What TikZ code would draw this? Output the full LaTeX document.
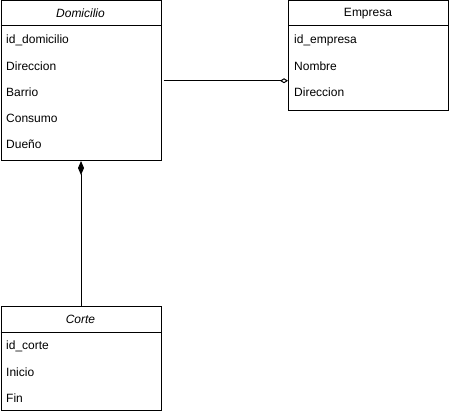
\documentclass[tikz,border=0pt]{standalone}
\usepackage{fontspec}
\setmainfont{Liberation Sans}
\usetikzlibrary{arrows.meta}
\begin{document}
\begin{tikzpicture}[x=1pt,y=-1pt,
  box/.style={draw,line width=1pt,rectangle,anchor=north west,minimum width=160pt,inner sep=0pt},
  hdr/.style={font=\fontsize{12}{14}\selectfont\itshape},
  hdrup/.style={font=\fontsize{12}{14}\selectfont},
  attr/.style={anchor=west,inner sep=0pt,font=\fontsize{12}{14}\selectfont},
  conn/.style={line width=1pt}]
\useasboundingbox (0,0) rectangle (449,414);
% Domicilio
\node[box,minimum height=159.5pt] (dom) at (0.5,0.5) {};
\draw[line width=1pt] (0.5,26) -- (160.5,26);
\node[hdr] (domh) at (80.5,13.5) {Domicilio};
\node[attr] (d1) at (6,40.5) {id\_domicilio};
\node[attr] (d2) at (6,66) {Direccion};
\node[attr] (d3) at (6,92) {Barrio};
\node[attr] (d4) at (6,118) {Consumo};
\node[attr] (d5) at (6,144) {Dueño};
% Empresa
\node[box,minimum height=109.5pt] (emp) at (288,0.5) {};
\draw[line width=1pt] (288,26) -- (448,26);
\node[hdrup] (emph) at (368,13.5) {Empresa};
\node[attr] (e1) at (294,40.5) {id\_empresa};
\node[attr] (e2) at (294,66) {Nombre};
\node[attr] (e3) at (294,92) {Direccion};
% Corte
\node[box,minimum height=104pt] (cor) at (0.5,306) {};
\draw[line width=1pt] (0.5,332) -- (160.5,332);
\node[hdr] (corh) at (80.5,319.5) {Corte};
\node[attr] (c1) at (6,346.5) {id\_corte};
\node[attr] (c2) at (6,372) {Inicio};
\node[attr] (c3) at (6,398) {Fin};
% connectors
\draw[conn,-{Diamond[open,length=8pt,width=5pt,line width=1pt]}] ([xshift=2pt]dom.east) -- (emp.west |- dom.east);
\draw[conn,{Diamond[length=14pt,width=6pt]}-] (dom.south) -- (cor.north);
\end{tikzpicture}
\end{document}
